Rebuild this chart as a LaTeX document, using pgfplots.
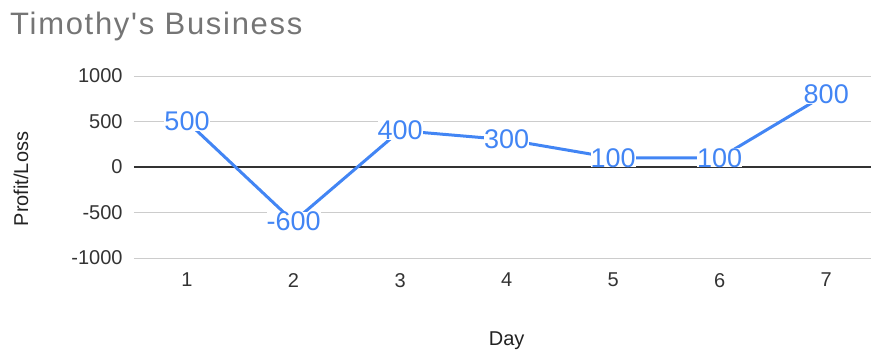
\documentclass[border=0pt]{standalone}
\usepackage{pgfplots}
\pgfplotsset{compat=1.18}
\usepackage{fontspec}
\setmainfont{Liberation Sans}
\newfontfamily\titlefont[LetterSpace=5.5]{Liberation Sans}
\definecolor{lineblue}{HTML}{4285F4}
\definecolor{titlegray}{HTML}{757575}
\definecolor{gridgray}{HTML}{CCCCCC}
\definecolor{ticktext}{HTML}{333333}
\definecolor{labeltext}{HTML}{222222}
\begin{document}
\begin{tikzpicture}[x=1pt,y=1pt]
\path[use as bounding box] (0,0) rectangle (871,349);
\node[anchor=base west, inner sep=0pt, text=titlegray] at (10,314) {\titlefont\fontsize{31}{36}\selectfont Timothy{\char39}s Business};
\node[rotate=90, anchor=base, inner sep=0pt, text=labeltext] at (28,170) {\fontsize{20}{24}\selectfont Profit/Loss};
\begin{axis}[
  at={(133.75pt,91pt)}, anchor=south west,
  scale only axis, width=737.25pt, height=182pt,
  xmin=0.5, xmax=7.42, ymin=-1000, ymax=1000,
  ytick={-1000,-500,0,500,1000}, xtick={1,2,3,4,5,6,7},
  axis line style={draw=none}, major tick length=0pt,
  ymajorgrids, grid style={line width=1pt, draw=gridgray},
  extra y ticks={0}, extra y tick labels={},
  extra y tick style={grid style={line width=1.3pt, draw=black!80}},
  tick label style={font=\fontsize{20}{24}\selectfont, text=ticktext},
  /pgf/number format/assume math mode=true,
  /pgf/number format/1000 sep={},
  yticklabel style={anchor=east, inner sep=0pt, xshift=-11pt},
  xticklabel style={anchor=north, inner sep=0pt, yshift=-15pt},
  clip=false,
]
\addplot[lineblue, line width=3pt, line join=round, mark=none,
  nodes near coords, point meta=explicit symbolic,
  every node near coord/.style={anchor=center, fill=white, inner sep=0pt,
    font=\fontsize{27}{31}\selectfont, text=lineblue}]
  coordinates {(1,500)[500] (2,-600)[-600] (3,400)[400] (4,300)[300] (5,100)[100] (6,100)[100] (7,800)[800]};
\node[anchor=base, inner sep=0pt, text=labeltext, font=\fontsize{20}{24}\selectfont] at (axis cs:4,-1000) [yshift=-87pt] {Day};
\end{axis}
\end{tikzpicture}
\end{document}
